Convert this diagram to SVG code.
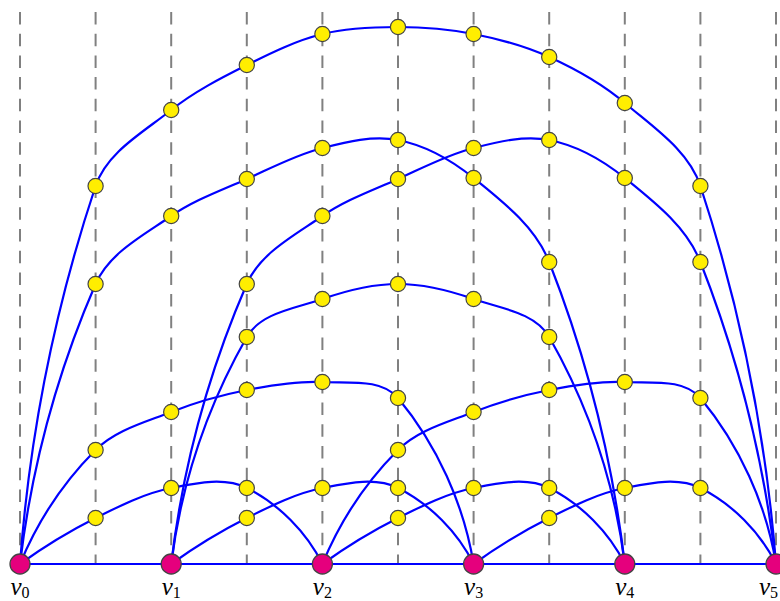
<svg xmlns="http://www.w3.org/2000/svg" width="780" height="601" viewBox="0 0 780 601">
<style>
.grid line{stroke:#808080;stroke-width:2;stroke-dasharray:12.5 9.2}
.e{fill:none;stroke:#0000FF;stroke-width:2.2}
.y{fill:#FFEE00;stroke:#444;stroke-width:1.2}
.p{fill:#E5007D;stroke:#444;stroke-width:1.3}
.lbl{font-family:"Liberation Serif",serif;font-style:italic;font-size:25px;fill:#000}
.sub{font-style:normal;font-size:16px}
</style>
<rect width="780" height="601" fill="#fff"/>
<g class="grid">
<line x1="20" y1="12" x2="20" y2="564"/>
<line x1="95.6" y1="12" x2="95.6" y2="564"/>
<line x1="171.2" y1="12" x2="171.2" y2="564"/>
<line x1="246.8" y1="12" x2="246.8" y2="564"/>
<line x1="322.4" y1="12" x2="322.4" y2="564"/>
<line x1="398" y1="12" x2="398" y2="564"/>
<line x1="473.6" y1="12" x2="473.6" y2="564"/>
<line x1="549.2" y1="12" x2="549.2" y2="564"/>
<line x1="624.8" y1="12" x2="624.8" y2="564"/>
<line x1="700.4" y1="12" x2="700.4" y2="564"/>
<line x1="776" y1="12" x2="776" y2="564"/>
</g>
<g id="connectors">
<path class="e" d="M20,564 H776"/>
<path class="e" d="M20,564 C29.4,435.9 55,307.9 95.6,186 C106.9,152.1 143.3,132.3 171.2,110 C194.1,91.7 220.6,78.2 246.8,65 C271.1,52.8 296,40.6 322.4,34 C346.9,27.8 372.7,27 398,27 C423.3,27 448.8,29.1 473.6,34 C499.4,39.1 525.3,46.1 549.2,57 C576,69.2 602.4,83.9 624.8,103 C653.2,127.3 688.7,150.5 700.4,186 C740.4,308.1 766,435.9 776,564"/>
<path class="e" d="M20,564 C31.4,467.9 57.1,372.7 95.6,284 C109.1,252.9 143.4,235.3 171.2,216 C194.3,200 221.2,190.5 246.8,179 C271.6,167.8 296.1,154.8 322.4,148 C346.9,141.7 373.2,135.1 398,140 C425.7,145.5 451.7,160.3 473.6,178 C502.9,201.7 535.5,226.9 549.2,262 C587.1,358.6 612.6,460.9 624.8,564"/>
<path class="e" d="M20,564 C37.3,521.8 63.4,482.3 95.6,450 C115.5,430 145,422.4 171.2,412 C195.5,402.3 221.1,395.1 246.8,390 C271.6,385.1 297.1,380.7 322.4,382 C348.2,383.4 381.5,378.2 398,398 C436.9,444.8 463.8,504 473.6,564"/>
<path class="e" d="M20,564 C43.9,546.7 69.2,531.3 95.6,518 C119.8,505.8 144.6,493.3 171.2,488 C195.9,483.1 224.3,476.7 246.8,488 C278.7,504 306.5,532 322.4,564"/>
<path class="e" d="M171.2,564 C182.6,467.9 208.3,372.7 246.8,284 C260.3,252.9 294.6,235.3 322.4,216 C345.5,200 372.4,190.5 398,179 C422.8,167.8 447.3,154.8 473.6,148 C498.1,141.7 524.4,135.1 549.2,140 C576.9,145.5 602.9,160.3 624.8,178 C654.1,201.7 686.7,226.9 700.4,262 C738.3,358.6 763.8,460.9 776,564"/>
<path class="e" d="M171.2,564 C181.1,484.9 207.3,406.3 246.8,337 C260.8,312.5 295.8,308.3 322.4,299 C346.7,290.5 372.3,284 398,284 C423.7,284 449.3,290.5 473.6,299 C500.2,308.3 535.2,312.5 549.2,337 C588.7,406.3 614.9,484.9 624.8,564"/>
<path class="e" d="M171.2,564 C195.1,546.7 220.4,531.3 246.8,518 C271,505.8 295.8,493.3 322.4,488 C347.1,483.1 375.5,476.7 398,488 C429.9,504 457.7,532 473.6,564"/>
<path class="e" d="M322.4,564 C339.7,521.8 365.8,482.3 398,450 C417.9,430 447.4,422.4 473.6,412 C497.9,402.3 523.5,395.1 549.2,390 C574,385.1 599.5,380.7 624.8,382 C650.6,383.4 683.9,378.2 700.4,398 C739.3,444.8 766.2,504 776,564"/>
<path class="e" d="M322.4,564 C346.3,546.7 371.6,531.3 398,518 C422.2,505.8 447,493.3 473.6,488 C498.3,483.1 526.7,476.7 549.2,488 C581.1,504 608.9,532 624.8,564"/>
<path class="e" d="M473.6,564 C497.5,546.7 522.8,531.3 549.2,518 C573.4,505.8 598.2,493.3 624.8,488 C649.5,483.1 677.9,476.7 700.4,488 C732.3,504 760.1,532 776,564"/>
</g>
<g id="s1a"><circle class="y" cx="95.6" cy="186" r="7.6"/></g>
<g id="s1b"><circle class="y" cx="95.6" cy="284" r="7.6"/></g>
<g id="s1c"><circle class="y" cx="95.6" cy="450" r="7.6"/></g>
<g id="s1d"><circle class="y" cx="95.6" cy="518" r="7.6"/></g>
<g id="s2a"><circle class="y" cx="171.2" cy="110" r="7.6"/></g>
<g id="s2b"><circle class="y" cx="171.2" cy="216" r="7.6"/></g>
<g id="s2c"><circle class="y" cx="171.2" cy="412" r="7.6"/></g>
<g id="s2d"><circle class="y" cx="171.2" cy="488" r="7.6"/></g>
<g id="s3a"><circle class="y" cx="246.8" cy="65" r="7.6"/></g>
<g id="s3b"><circle class="y" cx="246.8" cy="179" r="7.6"/></g>
<g id="s3c"><circle class="y" cx="246.8" cy="284" r="7.6"/></g>
<g id="s3d"><circle class="y" cx="246.8" cy="337" r="7.6"/></g>
<g id="s3e"><circle class="y" cx="246.8" cy="390" r="7.6"/></g>
<g id="s3f"><circle class="y" cx="246.8" cy="488" r="7.6"/></g>
<g id="s3g"><circle class="y" cx="246.8" cy="518" r="7.6"/></g>
<g id="s4a"><circle class="y" cx="322.4" cy="34" r="7.6"/></g>
<g id="s4b"><circle class="y" cx="322.4" cy="148" r="7.6"/></g>
<g id="s4c"><circle class="y" cx="322.4" cy="216" r="7.6"/></g>
<g id="s4d"><circle class="y" cx="322.4" cy="299" r="7.6"/></g>
<g id="s4e"><circle class="y" cx="322.4" cy="382" r="7.6"/></g>
<g id="s4f"><circle class="y" cx="322.4" cy="488" r="7.6"/></g>
<g id="s5a"><circle class="y" cx="398" cy="27" r="7.6"/></g>
<g id="s5b"><circle class="y" cx="398" cy="140" r="7.6"/></g>
<g id="s5c"><circle class="y" cx="398" cy="179" r="7.6"/></g>
<g id="s5d"><circle class="y" cx="398" cy="284" r="7.6"/></g>
<g id="s5e"><circle class="y" cx="398" cy="398" r="7.6"/></g>
<g id="s5f"><circle class="y" cx="398" cy="450" r="7.6"/></g>
<g id="s5g"><circle class="y" cx="398" cy="488" r="7.6"/></g>
<g id="s5h"><circle class="y" cx="398" cy="518" r="7.6"/></g>
<g id="s6a"><circle class="y" cx="473.6" cy="34" r="7.6"/></g>
<g id="s6b"><circle class="y" cx="473.6" cy="148" r="7.6"/></g>
<g id="s6c"><circle class="y" cx="473.6" cy="178" r="7.6"/></g>
<g id="s6d"><circle class="y" cx="473.6" cy="299" r="7.6"/></g>
<g id="s6e"><circle class="y" cx="473.6" cy="412" r="7.6"/></g>
<g id="s6f"><circle class="y" cx="473.6" cy="488" r="7.6"/></g>
<g id="s7a"><circle class="y" cx="549.2" cy="57" r="7.6"/></g>
<g id="s7b"><circle class="y" cx="549.2" cy="140" r="7.6"/></g>
<g id="s7c"><circle class="y" cx="549.2" cy="262" r="7.6"/></g>
<g id="s7d"><circle class="y" cx="549.2" cy="337" r="7.6"/></g>
<g id="s7e"><circle class="y" cx="549.2" cy="390" r="7.6"/></g>
<g id="s7f"><circle class="y" cx="549.2" cy="488" r="7.6"/></g>
<g id="s7g"><circle class="y" cx="549.2" cy="518" r="7.6"/></g>
<g id="s8a"><circle class="y" cx="624.8" cy="103" r="7.6"/></g>
<g id="s8b"><circle class="y" cx="624.8" cy="178" r="7.6"/></g>
<g id="s8c"><circle class="y" cx="624.8" cy="382" r="7.6"/></g>
<g id="s8d"><circle class="y" cx="624.8" cy="488" r="7.6"/></g>
<g id="s9a"><circle class="y" cx="700.4" cy="186" r="7.6"/></g>
<g id="s9b"><circle class="y" cx="700.4" cy="262" r="7.6"/></g>
<g id="s9c"><circle class="y" cx="700.4" cy="398" r="7.6"/></g>
<g id="s9d"><circle class="y" cx="700.4" cy="488" r="7.6"/></g>
<g id="v0"><circle class="p" cx="20" cy="564" r="10"/><text class="lbl" x="20" y="595" text-anchor="middle">v<tspan class="sub" dy="3">0</tspan></text></g>
<g id="v1"><circle class="p" cx="171.2" cy="564" r="10"/><text class="lbl" x="171.2" y="595" text-anchor="middle">v<tspan class="sub" dy="3">1</tspan></text></g>
<g id="v2"><circle class="p" cx="322.4" cy="564" r="10"/><text class="lbl" x="322.4" y="595" text-anchor="middle">v<tspan class="sub" dy="3">2</tspan></text></g>
<g id="v3"><circle class="p" cx="473.6" cy="564" r="10"/><text class="lbl" x="473.6" y="595" text-anchor="middle">v<tspan class="sub" dy="3">3</tspan></text></g>
<g id="v4"><circle class="p" cx="624.8" cy="564" r="10"/><text class="lbl" x="624.8" y="595" text-anchor="middle">v<tspan class="sub" dy="3">4</tspan></text></g>
<g id="v5"><circle class="p" cx="776" cy="564" r="10"/><text class="lbl" x="778" y="595" text-anchor="end">v<tspan class="sub" dy="3">5</tspan></text></g>
</svg>
